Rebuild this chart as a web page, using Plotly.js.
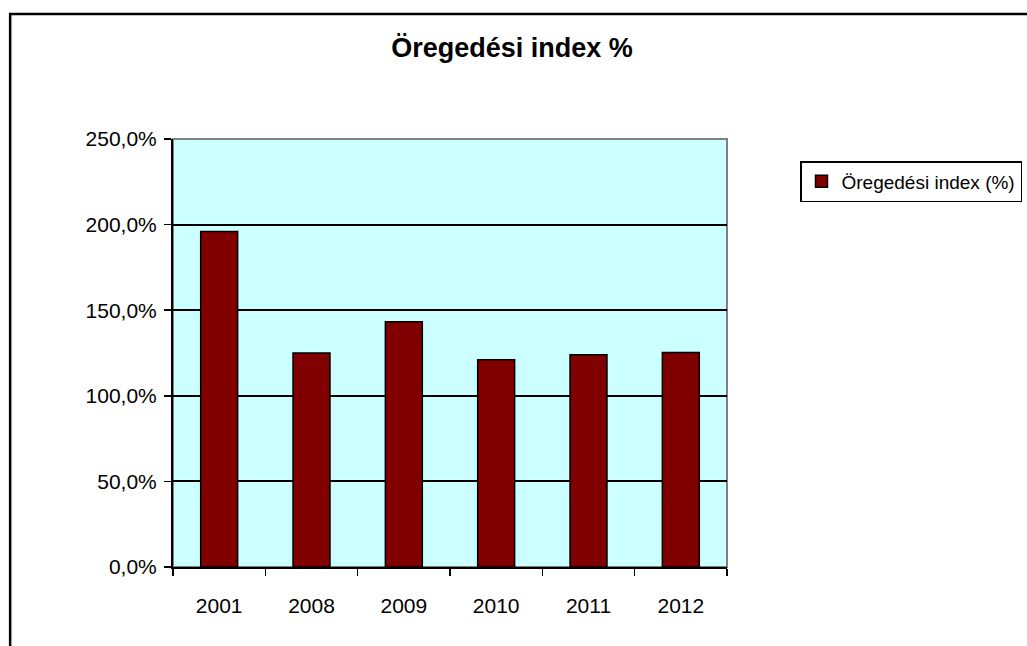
<!DOCTYPE html>
<html>
<head>
<meta charset="utf-8">
<script src="https://cdn.plot.ly/plotly-3.0.1.min.js"></script>
<style>html,body{margin:0;padding:0;background:#fff;overflow:hidden}#chart{width:1027px;height:646px}</style>
</head>
<body>
<div id="chart"></div>
<script>
const categories = ["2001", "2008", "2009", "2010", "2011", "2012"];
const values = [196.0, 125.0, 143.2, 121.0, 124.0, 125.3];
const yTickValues = [0, 50, 100, 150, 200, 250];
const yTickLabels = ["0,0%", "50,0%", "100,0%", "150,0%", "200,0%", "250,0%"];
const seriesName = "Öregedési index (%)";
const chartTitle = "Öregedési index %";

const font = "Liberation Sans, Arial, sans-serif";

const trace = {
  type: "bar",
  x: categories,
  y: values,
  name: seriesName,
  marker: { color: "#800000", line: { color: "#000000", width: 1.5 } },
  showlegend: true,
  hoverinfo: "x+y"
};

const L = 172.5, R = 727, T = 139, B = 567;
const pw = R - L, ph = B - T;

const layout = {
  width: 1027,
  height: 646,
  margin: { l: L, r: 1027 - R, t: T, b: 646 - B, pad: 0, autoexpand: false },
  paper_bgcolor: "#ffffff",
  plot_bgcolor: "#CCFFFF",
  font: { family: font, size: 21, color: "#000" },
  title: {
    text: chartTitle,
    font: { family: font, size: 27, color: "#000", weight: "bold" },
    x: 512 / 1027, xref: "container", xanchor: "center",
    y: 1 - 48 / 646, yref: "container", yanchor: "middle"
  },
  bargap: 0.6,
  xaxis: {
    type: "category",
    showline: true, linecolor: "#000", linewidth: 2,
    ticks: "outside", tickson: "boundaries", ticklen: 7, tickwidth: 1.5, tickcolor: "#000",
    showgrid: false, zeroline: false,
    tickfont: { family: font, size: 21, color: "#000" },
    ticklabelstandoff: 19,
    fixedrange: true
  },
  yaxis: {
    range: [0, 250],
    tickmode: "array",
    tickvals: yTickValues,
    ticktext: yTickLabels,
    showline: true, linecolor: "#000", linewidth: 2,
    ticks: "outside", ticklen: 7, tickwidth: 1.5, tickcolor: "#000",
    showgrid: true, gridcolor: "#000", gridwidth: 2,
    zeroline: false,
    tickfont: { family: font, size: 21, color: "#000" },
    ticklabelstandoff: 3,
    fixedrange: true
  },
  legend: {
    xref: "container", yref: "container",
    x: 800 / 1027, xanchor: "left",
    y: 1 - 161 / 646, yanchor: "top",
    bgcolor: "#fff", bordercolor: "#000", borderwidth: 1.5,
    font: { family: font, size: 19, color: "#000" },
    itemwidth: 30
  },
  shapes: [
    { type: "rect", xref: "paper", yref: "paper", x0: 0, x1: 1, y0: 0, y1: 1,
      line: { color: "#808080", width: 2 }, layer: "below" },
    { type: "rect", xref: "paper", yref: "paper",
      x0: (9.5 - L) / pw, x1: (1100 - L) / pw,
      y0: (B - 700) / ph, y1: (B - 14) / ph,
      line: { color: "#000", width: 2.5 }, fillcolor: "rgba(0,0,0,0)", layer: "above" }
  ]
};

Plotly.newPlot("chart", [trace], layout, { displayModeBar: false, staticPlot: true });
</script>
</body>
</html>
